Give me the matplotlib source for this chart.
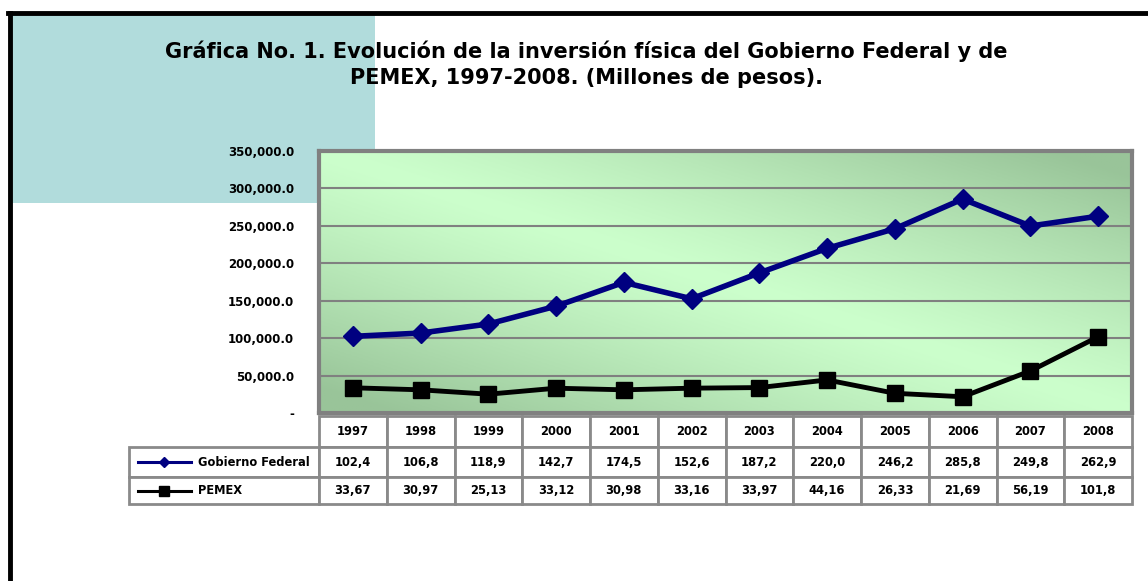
import numpy as np
import matplotlib
matplotlib.use("Agg")
import matplotlib.pyplot as plt
from matplotlib.patches import Rectangle
from matplotlib.lines import Line2D
from matplotlib.transforms import blended_transform_factory

# Data (pesos)
years = ["1997", "1998", "1999", "2000", "2001", "2002",
         "2003", "2004", "2005", "2006", "2007", "2008"]
gobierno = [102400, 106800, 118900, 142700, 174500, 152600,
            187200, 220000, 246200, 285800, 249800, 262900]
pemex = [33670, 30970, 25130, 33120, 30980, 33160,
         33970, 44160, 26330, 21690, 56190, 101800]
series_names = ["Gobierno Federal", "PEMEX"]
y_ticks = [0, 50000, 100000, 150000, 200000, 250000, 300000, 350000]

W, H = 1148, 581
FONT = "DejaVu Sans"

fig = plt.figure(figsize=(W / 100, H / 100), dpi=100)
fig.patch.set_facecolor("white")


def fy(py):
    return 1 - py / H


# outer black frame (only left and top visible)
fig.add_artist(Line2D([10 / W, 10 / W], [fy(13), 0], color="black", lw=3.5))
fig.add_artist(Line2D([8 / W, 1], [fy(13), fy(13)], color="black", lw=3.5))

# teal block behind title
fig.add_artist(Rectangle((12 / W, fy(203)), (375 - 12) / W, (203 - 15) / H,
                         transform=fig.transFigure, facecolor="#b1dcdc",
                         edgecolor="none", zorder=0))

fig.text(586 / W, fy(64),
         "Gráfica No. 1. Evolución de la inversión física del Gobierno Federal y de\n"
         "PEMEX, 1997-2008. (Millones de pesos).",
         ha="center", va="center", fontsize=15, fontweight="bold",
         family=FONT, linespacing=1.38)

# plot area
left, right, top, bottom = 319, 1132, 151, 413
ax = fig.add_axes([left / W, fy(bottom), (right - left) / W, (bottom - top) / H])
ax.set_xlim(0, len(years))
ax.set_ylim(0, 350000)

# gradient background: dark at top-right / bottom-left corners
gx, gy = np.meshgrid(np.linspace(0, 1, 300), np.linspace(1, 0, 120))
t = np.clip(np.abs(gx + gy - 1) * 1.1, 0, 1) ** 1.2
light = np.array([0.80, 1.0, 0.80])
dark = np.array([0.60, 0.77, 0.60])
img = light * (1 - t[..., None]) + dark * t[..., None]
ax.imshow(img, extent=[0, len(years), 0, 350000], aspect="auto", zorder=0)

ax.set_yticks(y_ticks)
ax.set_yticklabels(["-"] + [f"{v:,.1f}" for v in y_ticks[1:]],
                   fontsize=8.5, fontweight="bold", family=FONT)
ax.tick_params(axis="y", length=0, pad=18)
ax.set_xticks([])
ax.grid(axis="y", color="#808080", lw=1.5, zorder=1)
for s in ax.spines.values():
    s.set_color("#808080")
    s.set_linewidth(3)

xs = np.arange(len(years)) + 0.5
ax.plot(xs, gobierno, color="#000080", lw=4, marker="D", markersize=10.5, zorder=3)
ax.plot(xs, pemex, color="black", lw=3.5, marker="s", markersize=12, zorder=3)

# data table under the chart, columns aligned to the x scale
tr = blended_transform_factory(ax.transData, fig.transFigure)
rows_px = [416, 447, 477, 504]
label_left = -2.8
edge = "#8a8a8a"
txt_kw = dict(fontsize=8.3, fontweight="bold", family=FONT, va="center",
              transform=tr, clip_on=False)


def cell(x0, x1, r):
    y0, y1 = fy(rows_px[r + 1]), fy(rows_px[r])
    fig.add_artist(Rectangle((x0, y0), x1 - x0, y1 - y0, transform=tr,
                             facecolor="white", edgecolor=edge, lw=2))
    return (y0 + y1) / 2


for i, yr in enumerate(years):
    yc = cell(i, i + 1, 0)
    fig.text(i + 0.5, yc, yr, ha="center", **txt_kw)

for r, (name, vals, col, mk, ms) in enumerate(
        [(series_names[0], gobierno, "#000080", "D", 5.5),
         (series_names[1], pemex, "black", "s", 7.5)], start=1):
    yc = cell(label_left, 0, r)
    fig.add_artist(Line2D([-2.67, -1.89], [yc, yc], transform=tr, color=col,
                          lw=2.2))
    fig.add_artist(Line2D([-2.29], [yc], transform=tr, color=col,
                          marker=mk, markersize=ms, lw=0))
    fig.text(-1.79, yc, name, ha="left", **txt_kw)
    for i, v in enumerate(vals):
        yc = cell(i, i + 1, r)
        fig.text(i + 0.5, yc, f"{v:,.1f}"[:5], ha="center", **txt_kw)

fig.savefig("out.png", dpi=100)
